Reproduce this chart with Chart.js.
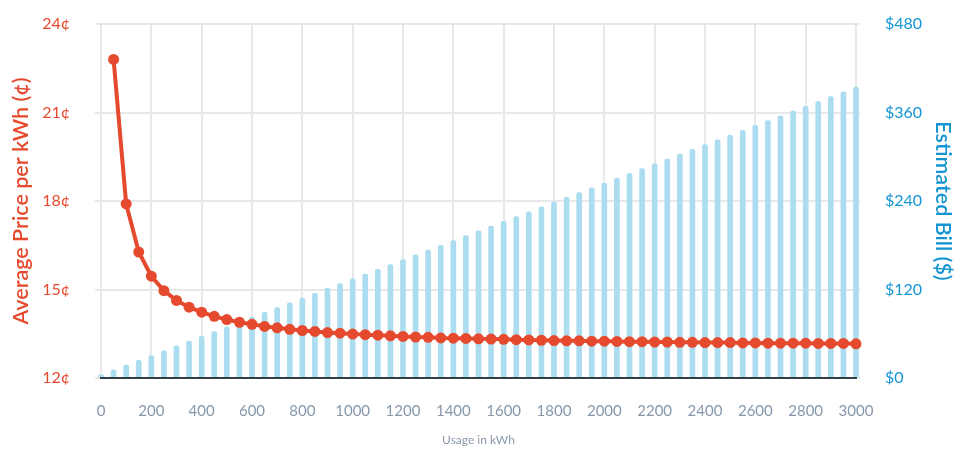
<!DOCTYPE html>
<html>
<head>
<meta charset="utf-8">
<title>Average price vs estimated bill</title>
<script src="https://cdn.jsdelivr.net/npm/chart.js@4.4.1/dist/chart.umd.min.js"></script>
<style>
  html, body { margin: 0; padding: 0; background: #fff; }
  #wrap { width: 976px; height: 458px; position: relative; }
</style>
</head>
<body>
<div id="wrap"><canvas id="chart"></canvas></div>
<script>
// ── DATA ──────────────────────────────────────────────────────────
const usageKwh = [
  0, 50, 100, 150, 200, 250, 300, 350, 400, 450,
  500, 550, 600, 650, 700, 750, 800, 850, 900, 950,
  1000, 1050, 1100, 1150, 1200, 1250, 1300, 1350, 1400, 1450,
  1500, 1550, 1600, 1650, 1700, 1750, 1800, 1850, 1900, 1950,
  2000, 2050, 2100, 2150, 2200, 2250, 2300, 2350, 2400, 2450,
  2500, 2550, 2600, 2650, 2700, 2750, 2800, 2850, 2900, 2950,
  3000
];

// average price in cents per kWh (no point at 0 kWh)
const avgPrice = [
  null, 22.8, 17.9, 16.27, 15.45, 14.96, 14.63, 14.4, 14.23, 14.09,
  13.98, 13.89, 13.82, 13.75, 13.7, 13.65, 13.61, 13.58, 13.54, 13.52,
  13.49, 13.47, 13.45, 13.43, 13.41, 13.39, 13.38, 13.36, 13.35, 13.34,
  13.33, 13.32, 13.31, 13.3, 13.29, 13.28, 13.27, 13.26, 13.26, 13.25,
  13.25, 13.24, 13.23, 13.23, 13.22, 13.22, 13.21, 13.21, 13.2, 13.2,
  13.2, 13.19, 13.19, 13.18, 13.18, 13.18, 13.18, 13.17, 13.17, 13.17,
  13.16
];

// estimated monthly bill in dollars
const estBill = [
  4.9, 11.4, 17.9, 24.4, 30.9, 37.4, 43.9, 50.4, 56.9, 63.4,
  69.9, 76.4, 82.9, 89.4, 95.9, 102.4, 108.9, 115.4, 121.9, 128.4,
  134.9, 141.4, 147.9, 154.4, 160.9, 167.4, 173.9, 180.4, 186.9, 193.4,
  199.9, 206.4, 212.9, 219.4, 225.9, 232.4, 238.9, 245.4, 251.9, 258.4,
  264.9, 271.4, 277.9, 284.4, 290.9, 297.4, 303.9, 310.4, 316.9, 323.4,
  329.9, 336.4, 342.9, 349.4, 355.9, 362.4, 368.9, 375.4, 381.9, 388.4,
  394.9
];

// ── STYLE ─────────────────────────────────────────────────────────
const RED  = '#e64a2e';
const BLUE = '#1596d2';
const BAR  = '#abdcef';
const GRID = '#e8e8e8';
const FONT = 'Lato, "Open Sans", sans-serif';

// fixed axis boxes so the plot area lands where the original has it
function fitY(width) {
  return (s) => { s.width = width; s.paddingTop = 0; s.paddingBottom = 0; };
}

// ── CHART ─────────────────────────────────────────────────────────
const ctx = document.getElementById('chart');
new Chart(ctx, {
  type: 'bar',
  data: {
    datasets: [
      {
        type: 'line',
        label: 'Average Price per kWh',
        data: usageKwh.map((k, i) => ({ x: k, y: avgPrice[i] })),
        yAxisID: 'y',
        borderColor: RED,
        backgroundColor: RED,
        borderWidth: 4,
        pointRadius: 5.5,
        pointBorderWidth: 0,
        pointBackgroundColor: RED,
        tension: 0,
        order: 0,
        clip: false,
      },
      {
        type: 'bar',
        label: 'Estimated Bill',
        data: usageKwh.map((k, i) => ({ x: k, y: estBill[i] })),
        yAxisID: 'y1',
        backgroundColor: BAR,
        borderRadius: 2,
        barPercentage: 0.45,
        categoryPercentage: 1,
        order: 1,
        clip: false,
      },
    ],
  },
  options: {
    responsive: true,
    maintainAspectRatio: false,
    animation: false,
    layout: { padding: { top: 24, left: 0, right: 0, bottom: 0 } },
    plugins: {
      legend: { display: false },
      tooltip: { enabled: false },
    },
    scales: {
      x: {
        type: 'linear',
        min: 0,
        max: 3000,
        offset: false,
        grid: { color: GRID, lineWidth: 2, drawTicks: false, offset: false },
        border: { display: true, color: '#333d44', width: 2 },
        ticks: { stepSize: 200, color: '#8798aa', font: { family: FONT, size: 15 }, padding: 24, maxRotation: 0, callback: v => String(v) },
        title: { display: true, text: 'Usage in kWh', color: '#8a98a8', font: { family: FONT, size: 12 }, padding: { bottom: 11 } },
        afterFit: (s) => { s.height = 80; s.paddingLeft = 0; s.paddingRight = 0; },
      },
      y: {
        position: 'left',
        min: 12,
        max: 24,
        grid: { color: GRID, lineWidth: 2, tickLength: 6 },
        border: { display: false },
        ticks: { stepSize: 3, color: RED, font: { family: FONT, size: 16 }, padding: 25, callback: v => v + '¢' },
        title: { display: true, text: 'Average Price per kWh (¢)', color: RED, font: { family: FONT, size: 21.5, weight: '600' }, padding: { top: 8 } },
        afterFit: fitY(101),
      },
      y1: {
        position: 'right',
        min: 0,
        max: 480,
        grid: { drawOnChartArea: false, color: GRID, lineWidth: 2, tickLength: 4 },
        border: { display: false },
        ticks: { stepSize: 120, color: BLUE, font: { family: FONT, size: 16 }, padding: 25, callback: v => '$' + v },
        title: { display: true, text: 'Estimated Bill ($)', color: BLUE, font: { family: FONT, size: 21.5, weight: '600' }, padding: { top: 20 } },
        afterFit: fitY(120),
      },
    },
  },
});
</script>
</body>
</html>
